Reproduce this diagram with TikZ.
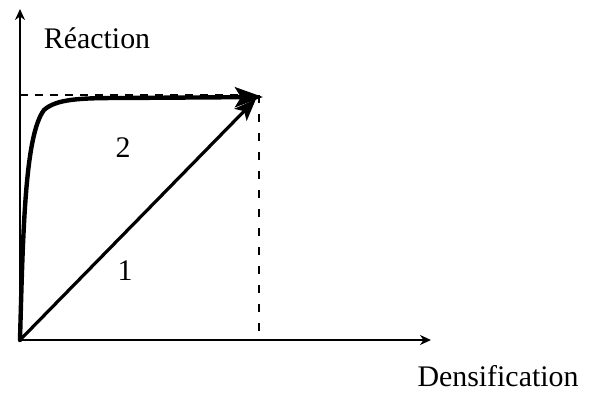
\documentclass[tikz,border=0pt]{standalone}
\usepackage{fontspec}
\setmainfont{Liberation Serif}
\usetikzlibrary{arrows.meta}
\begin{document}
\begin{tikzpicture}[x=1bp,y=-1bp,
  axis/.style={line width=2.2bp,-{Stealth[length=11bp,width=10bp]}},
  guide/.style={line width=1.3bp,dash pattern=on 8bp off 7bp},
  curvetwo/.style={line width=4.4bp,line cap=round,-{Stealth[length=28bp,width=20bp,inset=6bp]}},
  lineone/.style={line width=3.2bp,-{Stealth[length=22bp,width=17bp,inset=5bp]}},
  lbl/.style={inner sep=0pt,font=\fontsize{30}{36}\selectfont}]
\useasboundingbox (0,0) rectangle (590,393);
\coordinate (O) at (20,340);
\coordinate (ytip) at (20,9);
\coordinate (xtip) at (431,340);
\coordinate (P) at (259,95);
\coordinate (Px) at (259,340);
\coordinate (Py) at (20,95);
\coordinate (tip1) at (256,99);
\coordinate (tip2) at (263,97);
% dashed guides
\draw[guide] (Py) -- (P);
\draw[guide,dash pattern=on 8bp off 11bp] (P) -- (Px);
% axes
\draw[axis] (O) -- (ytip);
\draw[axis] (O) -- (xtip);
% path 1
\draw[lineone] (O) -- (tip1);
% path 2
\draw[curvetwo] (O) .. controls (23,230) and (25,135) .. (44,110)
  .. controls (56,99) and (80,98) .. (120,98) -- (tip2);
% labels
\node[lbl] (reac) at (97,38) {Réaction};
\node[lbl] (dens) at (498,376) {Densification};
\node[lbl] (two) at (123,148) {2};
\node[lbl] (one) at (125,271) {1};
\end{tikzpicture}
\end{document}
